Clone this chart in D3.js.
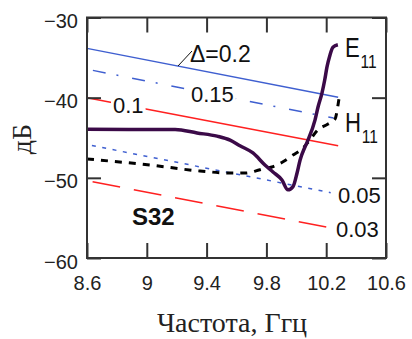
<!DOCTYPE html>
<html>
<head>
<meta charset="utf-8">
<script src="https://cdn.jsdelivr.net/npm/d3@7"></script>
<style>
html,body{margin:0;padding:0;background:#fff;}
svg{display:block;}
</style>
</head>
<body>
<svg id="chart" width="412" height="339"></svg>
<script>
// ---- data ----
const xTicks = [8.6, 9, 9.4, 9.8, 10.2, 10.6];
const xTickLabels = ["8.6", "9", "9.4", "9.8", "10.2", "10.6"];
const yTicks = [-30, -40, -50, -60];
const yTickLabels = ["\u221230", "\u221240", "\u221250", "\u221260"];

// constant-Δ reference lines (start at 8.6 GHz, end freq/value)
const deltaNames = ["\u0394=0.2", "0.15", "0.1", "0.05", "0.03"];
const deltaStartVal = [-33.85, -36.45, -40.0, -45.85, -50.35];
const deltaEndFreq = [10.28, 10.25, 10.28, 10.23, 10.22];
const deltaEndVal = [-39.95, -42.55, -46.0, -51.85, -56.2];

// E11 curve
const e11Freq = [8.6, 9.19, 9.336, 9.47, 9.557, 9.623, 9.71, 9.79, 9.844, 9.904, 9.944, 9.978, 10.005, 10.025, 10.058, 10.078, 10.125, 10.145, 10.172, 10.19, 10.205, 10.225, 10.245, 10.278];
const e11Val  = [-43.95, -43.97, -44.4, -44.8, -45.3, -46.0, -46.9, -48.4, -49.27, -50.27, -51.5, -51.1, -49.4, -47.8, -46.15, -45.3, -42.8, -41.2, -39.4, -37.8, -36.2, -34.7, -33.7, -33.4];

// H11 curve
const h11Freq = [8.6, 9.02, 9.356, 9.557, 9.657, 9.757, 9.837, 9.911, 9.978, 10.045, 10.09, 10.145, 10.212, 10.259, 10.279, 10.285];
const h11Val  = [-47.65, -48.4, -49.15, -49.4, -49.4, -49.0, -48.65, -48.0, -47.15, -46.3, -45.3, -44.0, -43.3, -42.66, -40.9, -40.2];

// ---- layout ----
const L = 87, R = 386, T = 17.5, B = 258;
const svg = d3.select("#chart");
const x = d3.scaleLinear().domain([8.6, 10.6]).range([L, R]);
const y = d3.scaleLinear().domain([-60, -30]).range([B, T]);

const blue = "#3f5fd0", red = "#ff2020", purple = "#3b0a48", frame = "#333";

// reference lines
const dStyles = [
  {c: blue, dash: null, off: 0},
  {c: blue, dash: "13,11,2,14", off: 34},
  {c: red, dash: null, off: 0},
  {c: blue, dash: "4,6.5", off: 5.5},
  {c: red, dash: "28,14", off: 36.3}
];
const line = d3.line().x(d => x(d[0])).y(d => y(d[1]));
deltaNames.forEach((n, i) => {
  const pts = [[8.6, deltaStartVal[i]], [deltaEndFreq[i], deltaEndVal[i]]];
  svg.append("path").attr("d", line(pts)).attr("fill", "none")
    .attr("stroke", dStyles[i].c).attr("stroke-width", 1.5)
    .attr("stroke-dasharray", dStyles[i].dash)
    .attr("stroke-dashoffset", dStyles[i].off);
});

// label helper with optional white background
function label(txt, px, py, size, opts = {}) {
  const g = svg.append("g");
  const t = g.append("text").attr("x", px).attr("y", py)
    .attr("font-family", opts.family || "Liberation Sans, Arial, sans-serif")
    .attr("font-size", size).attr("font-weight", opts.weight || "normal")
    .attr("fill", opts.fill || "#111").attr("text-anchor", opts.anchor || "start")
    .text(txt);
  if (opts.bg) {
    const bb = t.node().getBBox();
    g.insert("rect", "text").attr("x", bb.x - 2).attr("y", bb.y + 2)
      .attr("width", bb.width + 4).attr("height", bb.height - 4).attr("fill", "#fff");
  }
  return t;
}

// H11 (black dashed)
const curve = d3.line().x(d => x(d[0])).y(d => y(d[1])).curve(d3.curveMonotoneX);
svg.append("path").attr("d", curve(h11Freq.map((f, i) => [f, h11Val[i]])))
  .attr("fill", "none").attr("stroke", "#000").attr("stroke-width", 3)
  .attr("stroke-dasharray", "7,7");

// E11 (thick purple)
svg.append("path").attr("d", curve(e11Freq.map((f, i) => [f, e11Val[i]])))
  .attr("fill", "none").attr("stroke", purple).attr("stroke-width", 3.5)
  .attr("stroke-linejoin", "round");

// labels of reference lines
label("0.1", 113, 113, 22, {bg: true});
label("0.15", 191, 102, 22, {bg: true});
label("\u0394=0.2", 190, 62, 23);
svg.append("line").attr("x1", 178).attr("y1", 66).attr("x2", 192).attr("y2", 51)
  .attr("stroke", "#111").attr("stroke-width", 1);
label("0.05", 338, 203, 22);
label("0.03", 336, 237, 22);
label("S32", 132, 225, 24, {weight: "bold"});

// E11 / H11 labels (single text with subscript tspan)
function modeLabel(main, px, py) {
  const t = svg.append("text").attr("transform", `translate(${px},${py}) scale(0.82,1)`)
    .attr("font-family", "Liberation Sans, Arial, sans-serif").attr("fill", "#111");
  t.append("tspan").attr("font-size", 27).text(main);
  t.append("tspan").attr("font-size", 19).attr("dy", 11).attr("dx", 1).text("11");
}
modeLabel("E", 345, 57);
modeLabel("H", 345, 132);

// axes with inward ticks
const fmtX = d => xTickLabels[xTicks.indexOf(d)];
const fmtY = d => yTickLabels[yTicks.indexOf(d)];
const gB = svg.append("g").attr("transform", `translate(0,${B})`)
  .call(d3.axisBottom(x).tickValues(xTicks).tickSize(-15).tickPadding(18).tickFormat(fmtX));
const gT = svg.append("g").attr("transform", `translate(0,${T})`)
  .call(d3.axisTop(x).tickValues(xTicks).tickSize(-15).tickFormat(""));
const gL = svg.append("g").attr("transform", `translate(${L},0)`)
  .call(d3.axisLeft(y).tickValues(yTicks).tickSize(-14).tickPadding(9).tickFormat(fmtY));
const gR = svg.append("g").attr("transform", `translate(${R},0)`)
  .call(d3.axisRight(y).tickValues(yTicks).tickSize(-14).tickFormat(""));
[gB, gT, gL, gR].forEach(g => {
  g.select(".domain").remove();
  g.selectAll(".tick line").attr("stroke", frame).attr("stroke-width", 2);
  g.selectAll("text").attr("font-family", "Liberation Sans, Arial, sans-serif")
    .attr("font-size", 20).attr("fill", "#222");
});
gL.selectAll("text").attr("dy", "0.65em").attr("y", -3);
gB.selectAll("text").attr("dy", "0.71em");

// frame
svg.append("rect").attr("x", L).attr("y", T).attr("width", R - L).attr("height", B - T)
  .attr("fill", "none").attr("stroke", frame).attr("stroke-width", 2);

// axis titles
svg.append("text").attr("x", 232).attr("y", 332).attr("text-anchor", "middle")
  .attr("font-family", "Liberation Serif, Times New Roman, serif").attr("font-size", 28)
  .attr("fill", "#222").text("Частота, Ггц");
svg.append("text").attr("transform", "translate(31,139) rotate(-90)").attr("text-anchor", "middle")
  .attr("font-family", "Liberation Serif, Times New Roman, serif").attr("font-size", 28)
  .attr("fill", "#222").text("дБ");
</script>
</body>
</html>
